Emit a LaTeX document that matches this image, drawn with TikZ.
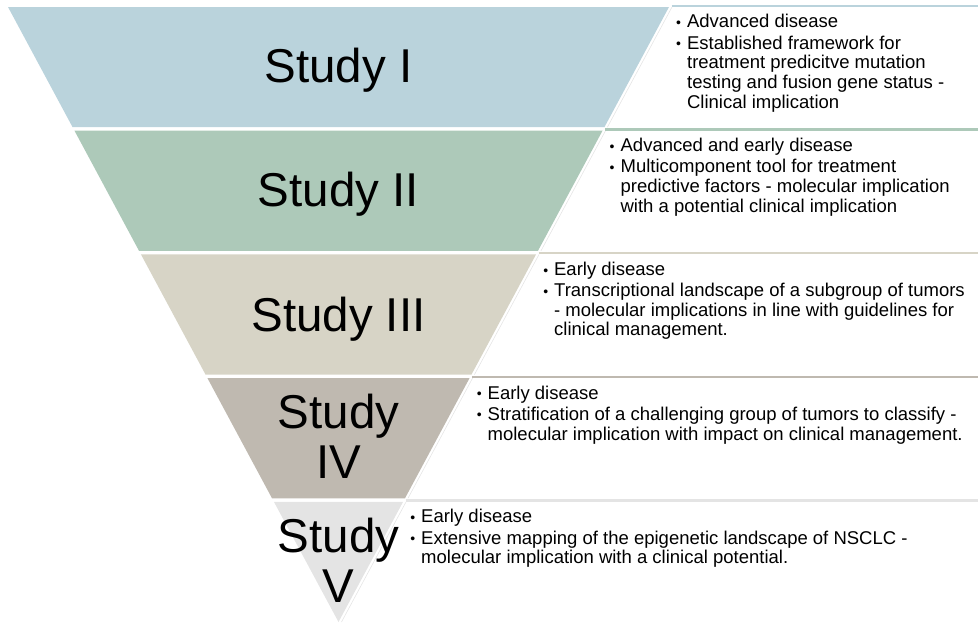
\documentclass[tikz,border=0pt]{standalone}
\usepackage{fontspec}
\setmainfont{Liberation Sans}
\usepackage{xcolor}
\usepackage{tikz}
\usetikzlibrary{calc,positioning}
\definecolor{studyone}{HTML}{BAD3DC}
\definecolor{studytwo}{HTML}{ADC9B9}
\definecolor{studythree}{HTML}{D7D4C6}
\definecolor{studyfour}{HTML}{BFB9B0}
\definecolor{studyfive}{HTML}{E4E4E4}
\newcommand{\descbullet}{\raisebox{0.4pt}{\fontsize{14}{14}\selectfont\textbullet}}

\begin{document}
\begin{tikzpicture}[
    x=1pt,y=-1pt,
    bandfill/.style = {fill=#1,draw=none},
    topline/.style  = {draw=#1,line width=2.5pt},
    slant/.style    = {draw=black!10,line width=0.6pt},
    studylbl/.style = {font=\fontsize{47.5}{50}\selectfont,align=center,anchor=base,inner sep=0pt},
    desc/.style     = {font=\fontsize{18.5}{19.7}\selectfont,anchor=north west,inner sep=0pt},
  ]
  \useasboundingbox (0,0) rectangle (978,622);

  % Triangle corners and right margin
  \coordinate (A) at (8,7);
  \coordinate (B) at (669,7);
  \coordinate (C) at (338.5,622);
  \coordinate (E) at (978,0);

  % Bands of the inverted pyramid
  \foreach \i/\col in {0/studyone,1/studytwo,2/studythree,3/studyfour,4/studyfive}{
    \pgfmathsetmacro{\ttop}{0.20114*\i}
    \pgfmathsetmacro{\tbot}{0.20114*\i+0.19545}
    \coordinate (l\i)  at ($(A)!\ttop!(C)$);
    \coordinate (r\i)  at ($(B)!\ttop!(C)$);
    \coordinate (lb\i) at ($(A)!\tbot!(C)$);
    \coordinate (rb\i) at ($(B)!\tbot!(C)$);
    \coordinate (e\i)  at (r\i -| E);
    \fill[bandfill=\col] (l\i) -- (r\i) -- (rb\i) -- (lb\i) -- cycle;
    \draw[slant] ([xshift=3pt]r\i) -- ([xshift=3pt]rb\i);
    \draw[topline=\col] ([xshift=2.5pt,yshift=1.25pt]r\i) -- ([yshift=1.25pt]e\i);
  }

  % Study labels
  \node[studylbl] (s1) at (338.5,82)  {Study I};
  \node[studylbl] (s2) at (338.5,206) {Study II};
  \node[studylbl] (s3) at (338.5,331) {Study III};
  \node[studylbl] (s4) at (338.5,478) {Study\\IV};
  \node[studylbl] (s5) at (338.5,602) {Study\\V};

  % Descriptions
  \node[desc] (d1) at ([xshift=7pt,yshift=-7pt]r0) {%
    \begin{tabular}{@{}l@{\hspace{6pt}}l@{}}
      \descbullet & Advanced disease\\[1.5pt]
      \descbullet & Established framework for\\
                  & treatment predicitve mutation\\
                  & testing and fusion gene status -\\
                  & Clinical implication
    \end{tabular}};
  \node[desc] (d2) at ([xshift=7pt,yshift=-7pt]r1) {%
    \begin{tabular}{@{}l@{\hspace{6pt}}l@{}}
      \descbullet & Advanced and early disease\\[1.5pt]
      \descbullet & Multicomponent tool for treatment\\
                  & predictive factors - molecular implication\\
                  & with a potential clinical implication
    \end{tabular}};
  \node[desc] (d3) at ([xshift=7pt,yshift=-7pt]r2) {%
    \begin{tabular}{@{}l@{\hspace{6pt}}l@{}}
      \descbullet & Early disease\\[1.5pt]
      \descbullet & Transcriptional landscape of a subgroup of tumors\\
                  & - molecular implications in line with guidelines for\\
                  & clinical management.
    \end{tabular}};
  \node[desc] (d4) at ([xshift=7pt,yshift=-7pt]r3) {%
    \begin{tabular}{@{}l@{\hspace{6pt}}l@{}}
      \descbullet & Early disease\\[1.5pt]
      \descbullet & Stratification of a challenging group of tumors to classify -\\
                  & molecular implication with impact on clinical management.
    \end{tabular}};
  \node[desc] (d5) at ([xshift=7pt,yshift=-7pt]r4) {%
    \begin{tabular}{@{}l@{\hspace{6pt}}l@{}}
      \descbullet & Early disease\\[1.5pt]
      \descbullet & Extensive mapping of the epigenetic landscape of NSCLC -\\
                  & molecular implication with a clinical potential.
    \end{tabular}};

\end{tikzpicture}
\end{document}
